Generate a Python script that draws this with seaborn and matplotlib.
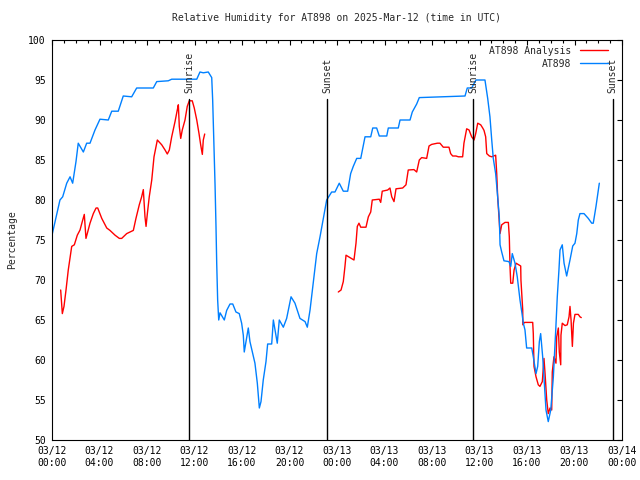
import numpy as np
import pandas as pd
import seaborn as sns
import matplotlib.pyplot as plt
import matplotlib.dates as mdates

# hours since 2025-03-12 00:00 UTC and relative humidity (%)
obs_hours = [0.0, 0.67, 0.9, 1.24, 1.52, 1.74, 2.02, 2.21, 2.64, 2.92, 3.2, 3.62, 4.04, 4.74,
             5.03, 5.58, 6.0, 6.71, 7.13, 8.53, 8.82, 9.79, 10.08, 12.19, 12.46, 12.74, 13.16,
             13.45, 13.53, 13.64, 13.73, 13.81, 13.87, 13.95, 14.04, 14.15, 14.51, 14.71, 14.99,
             15.22, 15.49, 15.77, 15.97, 16.11, 16.19, 16.34, 16.53, 16.67, 16.9, 17.09, 17.29,
             17.46, 17.6, 17.79, 18.02, 18.16, 18.5, 18.64, 18.78, 18.97, 19.14, 19.48, 19.76,
             20.13, 20.46, 20.88, 21.31, 21.5, 21.73, 22.0, 22.29, 22.57, 23.13, 23.55, 23.83,
             24.19, 24.53, 24.9, 25.15, 25.37, 25.66, 26.0, 26.36, 26.84, 27.01, 27.34, 27.56,
             28.19, 28.32, 29.16, 29.31, 30.15, 30.34, 30.71, 30.93, 32.95, 34.78, 34.97, 35.34,
             35.7, 36.46, 36.69, 36.88, 37.03, 37.16, 37.36, 37.53, 37.67, 37.73, 37.87, 38.06,
             38.48, 38.63, 38.76, 38.99, 39.18, 39.41, 39.58, 39.69, 39.83, 39.97, 40.4, 40.53,
             40.76, 40.9, 41.04, 41.15, 41.32, 41.46, 41.6, 41.79, 42.0, 42.22, 42.42, 42.55,
             42.69, 42.78, 42.97, 43.12, 43.34, 43.62, 43.85, 44.04, 44.19, 44.32, 44.46, 44.8,
             45.16, 45.45, 45.58, 45.81, 46.09]
obs_rh = [75.6, 80.0, 80.4, 82.1, 82.9, 82.1, 84.8, 87.1, 86.0, 87.1, 87.1, 88.75, 90.1, 90.0,
          91.1, 91.1, 93.0, 92.9, 94.0, 94.0, 94.8, 94.9, 95.1, 95.1, 96.0, 95.9, 96.0,
          95.3, 92.5, 86.9, 81.9, 76.7, 72.1, 67.5, 65.0, 65.9, 65.0, 66.2, 67.0,
          67.0, 66.0, 65.8, 64.6, 63.1, 61.0, 62.3, 64.0, 62.3, 60.8, 59.6, 57.1,
          54.0, 54.8, 57.5, 59.8, 62.0, 62.0, 65.0, 63.75, 62.1, 65.0, 64.1, 65.2,
          67.9, 67.1, 65.2, 64.8, 64.1, 66.25, 69.6, 73.3, 75.4, 80.0, 81.0, 81.0,
          82.1, 81.1, 81.1, 83.3, 84.2, 85.2, 85.2, 87.9, 87.9, 89.0, 89.0, 88.0,
          88.0, 89.0, 89.0, 90.0, 90.0, 91.0, 92.0, 92.8, 92.9, 93.0, 94.0, 94.0,
          95.0, 95.0, 92.7, 90.4, 87.5, 85.2, 83.3, 80.4, 77.8, 74.4, 73.5, 72.4,
          72.3, 71.7, 73.3, 72.1, 70.4, 67.5, 65.8, 64.6, 63.75, 61.5, 61.5, 60.4,
          58.3, 59.2, 62.3, 63.3, 60.4, 57.1, 53.75, 52.3, 53.75, 57.9, 63.75, 67.9,
          71.25, 73.75, 74.4, 72.1, 70.5, 72.5, 74.25, 74.6, 75.8, 77.5, 78.3, 78.3,
          77.7, 77.1, 77.1, 79.2, 82.1]

# analysis series: two separate runs
ana1_hours = [0.73, 0.87, 1.01, 1.18, 1.37, 1.66, 1.88, 2.13, 2.36, 2.55, 2.72, 2.86, 2.97,
              3.2, 3.48, 3.71, 3.85, 4.19, 4.61, 4.88, 5.31, 5.67, 5.87, 6.29, 6.71, 6.85,
              7.07, 7.35, 7.55, 7.69, 7.83, 7.92, 8.03, 8.19, 8.4, 8.59, 8.87, 9.24, 9.52,
              9.71, 9.88, 10.08, 10.36, 10.55, 10.64, 10.72, 10.84, 10.97, 11.2, 11.39,
              11.56, 11.81, 11.98, 12.19, 12.38, 12.52, 12.66, 12.74, 12.86]
ana1_rh = [68.75, 65.8, 66.7, 68.75, 71.25, 74.2, 74.4, 75.6, 76.25, 77.3, 78.2, 75.2, 75.8,
           77.1, 78.3, 79.0, 79.0, 77.7, 76.5, 76.2, 75.6, 75.2, 75.2, 75.8, 76.1, 76.2,
           77.7, 79.4, 80.4, 81.3, 77.9, 76.7, 78.3, 80.4, 82.5, 85.4, 87.5, 86.9, 86.25,
           85.75, 86.25, 87.9, 89.8, 91.25, 91.9, 89.2, 87.7, 88.75, 90.0, 91.7,
           92.4, 92.4, 91.5, 90.0, 88.3, 86.9, 85.7, 87.5, 88.25]
ana2_hours = [24.11, 24.34, 24.53, 24.67, 24.76, 25.09, 25.43, 25.6, 25.71, 25.85, 26.0, 26.44,
              26.64, 26.84, 26.97, 27.56, 27.68, 27.81, 28.27, 28.46, 28.61, 28.8, 28.97,
              29.53, 29.81, 30.0, 30.48, 30.71, 30.93, 31.13, 31.55, 31.75, 31.97, 32.45,
              32.67, 32.95, 33.43, 33.57, 33.74, 34.02, 34.22, 34.58, 34.69, 34.92, 35.12,
              35.34, 35.54, 35.68, 35.85, 36.1, 36.27, 36.38, 36.52, 36.61, 36.83, 37.03,
              37.36, 37.45, 37.53, 37.73, 37.87, 38.15, 38.43, 38.51, 38.57, 38.63, 38.8,
              38.91, 39.08, 39.47, 39.49, 39.64, 39.65, 39.78, 40.48, 40.53, 40.59, 40.76,
              40.95, 41.09, 41.29, 41.43, 41.52, 41.66, 41.79, 41.94, 42.08, 42.13, 42.27,
              42.44, 42.5, 42.64, 42.72, 42.84, 42.86, 42.97, 43.2, 43.39, 43.54, 43.62,
              43.71, 43.82, 43.91, 44.04, 44.32, 44.46, 44.57]
ana2_rh = [68.5, 68.75, 69.8, 71.7, 73.1, 72.8, 72.5, 74.6, 76.7, 77.1, 76.6, 76.6,
           77.9, 78.5, 80.0, 80.1, 79.7, 81.1, 81.25, 81.5, 80.4, 79.8, 81.4,
           81.5, 81.9, 83.75, 83.8, 83.5, 85.0, 85.3, 85.2, 86.75, 86.95, 87.1,
           87.1, 86.6, 86.6, 85.8, 85.5, 85.5, 85.4, 85.4, 87.1, 88.9, 88.75,
           87.9, 87.5, 88.3, 89.6, 89.4, 89.0, 88.7, 87.9, 85.8, 85.5, 85.4,
           85.6, 83.3, 80.4, 75.8, 76.9, 77.2, 77.2, 75.4, 71.7, 69.6, 69.6,
           71.25, 72.1, 71.75, 70.0, 66.25, 64.4, 64.7, 64.7, 63.3, 59.2, 57.9,
           56.9, 56.7, 57.3, 60.2, 58.3, 55.0, 53.3, 54.0, 53.75, 58.5, 60.4,
           59.6, 62.9, 64.0, 61.0, 59.4, 63.1, 64.6, 64.3, 64.4, 65.4, 66.7,
           65.0, 61.7, 64.6, 65.7, 65.7, 65.4, 65.3]

sun_events = ["Sunrise", "Sunset", "Sunrise", "Sunset"]
sun_hours = [11.54, 23.16, 35.48, 47.2]

start = pd.Timestamp("2025-03-12 00:00")


def to_time(hours):
    return start + pd.to_timedelta(np.asarray(hours), unit="h")


obs = pd.DataFrame({"time": to_time(obs_hours), "rh": obs_rh})
ana1 = pd.DataFrame({"time": to_time(ana1_hours), "rh": ana1_rh})
ana2 = pd.DataFrame({"time": to_time(ana2_hours), "rh": ana2_rh})

sns.set_theme(style="white")
plt.rcParams["font.family"] = ["DejaVu Sans Mono"]
plt.rcParams["font.size"] = 7

fig = plt.figure(figsize=(6.4, 4.8), dpi=100)
ax = fig.add_axes([52 / 640, 40 / 480, 570 / 640, 400 / 480])

red = "#ff0000"
blue = "#0080ff"
line_kw = dict(lw=1.0, estimator=None, sort=False)
sns.lineplot(data=ana1, x="time", y="rh", ax=ax, color=red, label="AT898 Analysis", **line_kw)
sns.lineplot(data=ana2, x="time", y="rh", ax=ax, color=red, **line_kw)
sns.lineplot(data=obs, x="time", y="rh", ax=ax, color=blue, label="AT898", **line_kw)

# sunrise / sunset markers
for name, t in zip(sun_events, to_time(sun_hours)):
    ax.plot([t, t], [50, 92.6], color="black", lw=1.0)
    ax.text(t, 93.4, name, rotation=90, ha="center", va="bottom", fontsize=7)

ax.set_xlim(start, start + pd.Timedelta(hours=48))
ax.set_ylim(50, 100)
ax.set_yticks(np.arange(50, 101, 5))
ax.xaxis.set_major_locator(mdates.HourLocator(byhour=range(0, 24, 4)))
ax.xaxis.set_minor_locator(mdates.HourLocator())
ax.xaxis.set_major_formatter(mdates.DateFormatter("%m/%d\n%H:%M"))
ax.tick_params(which="both", direction="in", top=True, right=True, colors="black",
               labelsize=7, width=0.8)
ax.tick_params(which="major", length=3.5, pad=4.5)
ax.tick_params(which="minor", length=2)
for s in ax.spines.values():
    s.set_color("black")
    s.set_linewidth(0.8)

ax.set_xlabel("")
ax.set_ylabel("Percentage", fontsize=7, labelpad=8)
fig.suptitle("Relative Humidity for AT898 on 2025-Mar-12 (time in UTC)",
             x=337 / 640, y=1 - 13 / 480, fontsize=7, va="top")

leg = ax.legend(loc="upper right", bbox_to_anchor=(613 / 640, 1 - 41 / 480),
                bbox_transform=fig.transFigure, frameon=False, markerfirst=False,
                handlelength=2.9, handletextpad=0.9, borderpad=0, labelspacing=0.3,
                fontsize=7)

fig.savefig("out.png", dpi=100)
